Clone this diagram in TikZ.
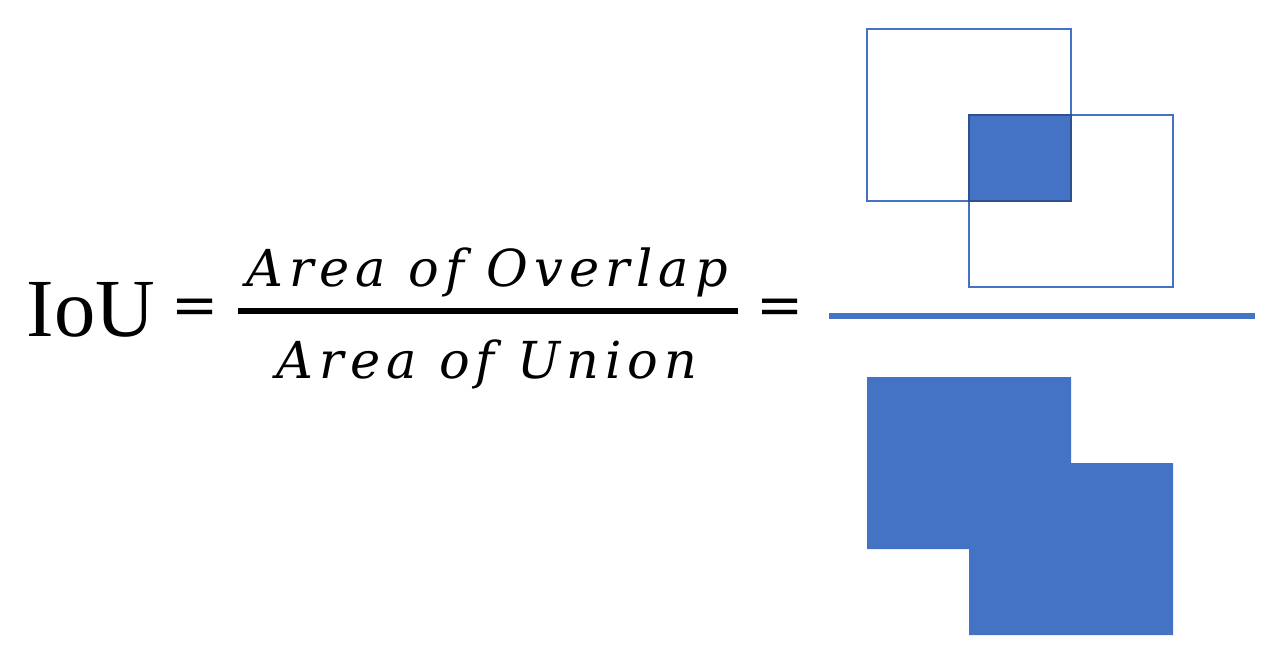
\documentclass[tikz,border=0pt]{standalone}
\usepackage{fontspec}
\setmainfont{Liberation Serif}
\newfontfamily\eqfont{DejaVu Serif}[LetterSpace=12]
\newfontfamily\signfont{DejaVu Serif}
\definecolor{ioublue}{HTML}{4472C4}
\definecolor{iouedge}{HTML}{2F528F}
\begin{document}
\begin{tikzpicture}[x=0.02cm,y=-0.02cm,
  big/.style={inner sep=0,font=\fontsize{47}{56}\selectfont},
  frac/.style={inner sep=0,font=\fontsize{29}{35}\eqfont\itshape},
  eqsign/.style={inner sep=0,font=\fontsize{32}{38}\signfont},
  box/.style={draw=ioublue,line width=0.6pt},
  overlap/.style={fill=ioublue,draw=iouedge,line width=0.8pt}]
\useasboundingbox (0,0) rectangle (1268,655);
% left side of the equation
\node[big,anchor=base] (iou) at (91,337) {IoU};
\node[eqsign] (eqA) at (195,312) {=};
\node[frac,anchor=base] (num) at (487,287) {Area of Overlap};
\node[frac,anchor=base] (den) at (487,378) {Area of Union};
\coordinate (barL) at (238,311);
\coordinate (barR) at (738,311);
\draw[line width=3pt] (barL) -- (barR);
\node[eqsign] (eqB) at (780,312) {=};
% overlap of the two boxes
\draw[box] (867,29) rectangle (1071,201);
\draw[box] (969,115) rectangle (1173,287);
\draw[overlap] (969,115) rectangle (1071,201);
\coordinate (lineL) at (829,316);
\coordinate (lineR) at (1255,316);
\draw[ioublue,line width=3.4pt] (lineL) -- (lineR);
% union of the two boxes
\fill[ioublue] (867,377) -| (1071,463) -| (1173,635) -| (969,549) -| cycle;
\end{tikzpicture}
\end{document}
